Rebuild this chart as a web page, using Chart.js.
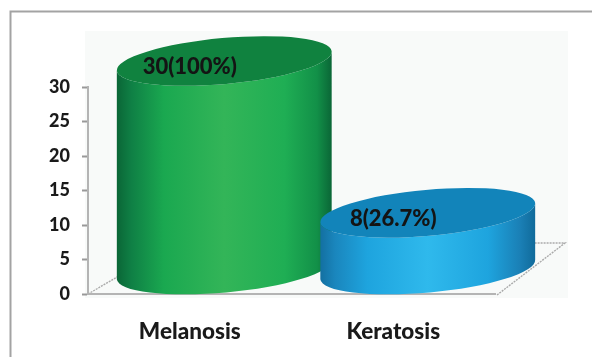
<!DOCTYPE html>
<html>
<head>
<meta charset="utf-8">
<style>
  html, body { margin: 0; padding: 0; background: #ffffff; }
  #wrap { width: 592px; height: 357px; position: relative; }
</style>
<script src="https://cdn.jsdelivr.net/npm/chart.js@4"></script>
</head>
<body>
<div id="wrap"><canvas id="chart" width="592" height="357"></canvas></div>
<script>
const categories = ["Melanosis", "Keratosis"];
const cases = [30, 8];
const percents = ["100", "26.7"];
const yTicks = [0, 5, 10, 15, 20, 25, 30];
const sideStops = [
  ["#0a6536", "#0f8045", "#1aa850", "#33b558", "#1fae54", "#129048", "#0a6536"],
  ["#136fa0", "#1a86bd", "#1ea4de", "#2fb9ec", "#1ea4de", "#1a7fb5", "#106a9a"]
];
const capColours = ["#10823f", "#1284ba"];

const DEPTH_X = 34.5, RX_SCALE = 1.06, RY = 23, TILT = -0.09;

// Pseudo-3D room: back wall, floor edges and the outer frame
const roomPlugin = {
  id: "room",
  beforeDraw(chart) {
    const { ctx, chartArea: a } = chart;
    ctx.save();
    ctx.strokeStyle = "#a3a3a3";
    ctx.lineWidth = 2;
    ctx.strokeRect(10.5, 11.5, 590, 360);
    ctx.fillStyle = "#f8faf9";
    ctx.fillRect(a.left - 3, 31, a.right - a.left + 76, a.bottom - 31 + 4);
    ctx.strokeStyle = "#aaaaaa";
    ctx.lineWidth = 1.4;
    ctx.setLineDash([2, 1]);
    ctx.beginPath();
    ctx.moveTo(a.left, a.bottom);
    ctx.lineTo(a.left + DEPTH_X, a.bottom - 20);
    ctx.moveTo(a.right + 2, a.bottom + 1);
    ctx.lineTo(a.right + 70, a.bottom - 51);
    ctx.lineTo(a.right + 38, a.bottom - 51);
    ctx.stroke();
    ctx.restore();
  }
};

// Each bar element supplies its position and size; the cylinder is built on those
const cylinderPlugin = {
  id: "cylinders",
  afterDatasetsDraw(chart) {
    const { ctx } = chart;
    chart.getDatasetMeta(0).data.forEach((bar, i) => {
      const cx = bar.x + DEPTH_X;
      const rx = bar.width * RX_SCALE / 2;
      const topY = bar.y - 26;
      const botY = bar.base - 24;
      const g = ctx.createLinearGradient(cx - rx, 0, cx + rx, 0);
      const stops = [0, 0.07, 0.22, 0.5, 0.78, 0.93, 1];
      stops.forEach((s, k) => g.addColorStop(s, sideStops[i][k]));

      ctx.save();
      ctx.beginPath();
      ctx.ellipse(cx, botY, rx, RY, TILT, 0, Math.PI);
      ctx.lineTo(cx - rx * Math.cos(TILT), topY - rx * Math.sin(TILT));
      ctx.ellipse(cx, topY, rx, RY, TILT, Math.PI, 0, true);
      ctx.closePath();
      ctx.fillStyle = g;
      ctx.fill();

      ctx.beginPath();
      ctx.ellipse(cx, topY, rx, RY, TILT, 0, Math.PI * 2);
      ctx.fillStyle = capColours[i];
      ctx.fill();

      ctx.fillStyle = "#141414";
      ctx.font = "900 22px Lato";
      ctx.textAlign = "center";
      ctx.textBaseline = "middle";
      ctx.fillText(cases[i] + "(" + percents[i] + "%)", bar.x, bar.y - 20);
      ctx.restore();
    });
  }
};

new Chart(document.getElementById("chart"), {
  type: "bar",
  data: {
    labels: categories,
    datasets: [{
      data: cases,
      backgroundColor: "rgba(0,0,0,0)",
      barPercentage: 1,
      categoryPercentage: 1
    }]
  },
  plugins: [roomPlugin, cylinderPlugin],
  options: {
    responsive: false,
    animation: false,
    layout: { padding: { top: 87, right: 97, left: 0, bottom: 0 } },
    plugins: { legend: { display: false }, tooltip: { enabled: false } },
    scales: {
      x: {
        afterFit(s) { s.height = 63; },
        grid: { display: false },
        border: { color: "#b4b4b4", width: 2, dash: [1, 1] },
        ticks: { color: "#1a1a1a", font: { family: "Lato", weight: "900", size: 22.5 }, padding: 16, maxRotation: 0 }
      },
      y: {
        min: 0,
        max: 30,
        afterFit(s) { s.width = 88; },
        afterBuildTicks(s) { s.ticks = yTicks.map(v => ({ value: v })); },
        grid: { drawOnChartArea: false, tickLength: 6, tickColor: "#999999", tickWidth: 2 },
        border: { color: "#b4b4b4", width: 2, dash: [1, 1] },
        ticks: { color: "#1a1a1a", font: { family: "Lato", weight: "900", size: 18 }, padding: 12 }
      }
    }
  }
});
</script>
</body>
</html>
